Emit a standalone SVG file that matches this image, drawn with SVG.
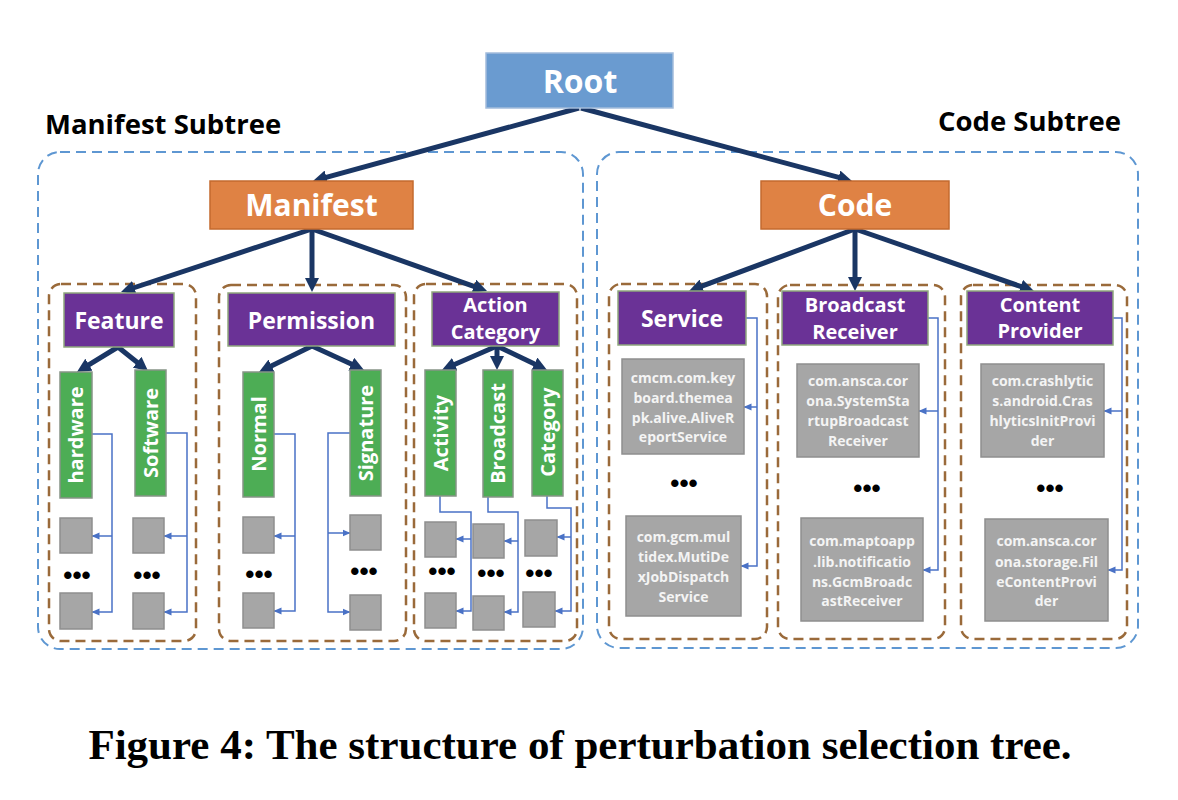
<svg xmlns="http://www.w3.org/2000/svg" width="1178" height="800" viewBox="0 0 1178 800">
<style>
text{font-family:"Open Sans","Liberation Sans",sans-serif;font-weight:700}
.wt{fill:#ffffff;text-anchor:middle}
.root{fill:#6A9BD0;stroke:#A3BCDB;stroke-width:1.5}
.orange{fill:#DF8244;stroke:#C46A2E;stroke-width:1.5}
.purple{fill:#6A3296;stroke:#8EA77C;stroke-width:1.5}
.green{fill:#4DAD55;stroke:#879487;stroke-width:1.5}
.gray{fill:#A6A6A6;stroke:#8E8E8E;stroke-width:1.5}
.gt{fill:#F4F4F4;text-anchor:middle;font-size:14px}
.bluebox{fill:none;stroke:#5E97D2;stroke-width:2;stroke-dasharray:10 6}
.brownbox{fill:none;stroke:#9A6A3A;stroke-width:2.5;stroke-dasharray:10 6}
.thick{fill:none;stroke:#1A3664;stroke-width:5;marker-end:url(#bigArrow)}
.tha{fill:none;stroke:#4A72C6;stroke-width:1.5;marker-end:url(#smallArrow)}
.dots{font-family:"Liberation Sans",sans-serif;font-size:26px;fill:#000;text-anchor:middle}
.vt{fill:#ffffff;text-anchor:middle;font-size:20px}
.head{fill:#000;font-size:27.5px}
</style>
<defs>
<marker id="bigArrow" markerUnits="userSpaceOnUse" viewBox="0 0 14 14" markerWidth="14" markerHeight="14" refX="6" refY="7" orient="auto"><path d="M0,0 L14,7 L0,14 z" fill="#1A3664"/></marker>
<marker id="smallArrow" markerUnits="userSpaceOnUse" viewBox="0 0 8 8" markerWidth="8" markerHeight="8" refX="7.5" refY="4" orient="auto"><path d="M0,0.5 L8,4 L0,7.5 z" fill="#4A72C6"/></marker>
</defs>
<rect width="1178" height="800" fill="#ffffff"/>

<g id="containers">
<rect class="bluebox" x="38" y="152" width="545" height="497" rx="22"/>
<rect class="bluebox" x="597" y="152" width="541" height="496" rx="22"/>
<rect class="brownbox" x="49" y="284" width="147" height="357" rx="12"/>
<rect class="brownbox" x="219" y="285" width="187" height="356" rx="12"/>
<rect class="brownbox" x="414" y="284" width="163" height="357" rx="12"/>
<rect class="brownbox" x="609" y="284" width="158" height="355" rx="12"/>
<rect class="brownbox" x="778" y="285" width="167" height="354" rx="12"/>
<rect class="brownbox" x="961" y="285" width="166" height="354" rx="12"/>
</g>

<g id="labels">
<text class="head" x="45" y="134">Manifest Subtree</text>
<text class="head" x="938" y="131">Code Subtree</text>
</g>

<g id="connectors">
<line class="thick" x1="579" y1="108" x2="320.7" y2="178.9"/>
<line class="thick" x1="581" y1="108" x2="844.3" y2="178.9"/>
<line class="thick" x1="312" y1="229" x2="128.6" y2="289.5"/>
<line class="thick" x1="312" y1="229" x2="312" y2="284"/>
<line class="thick" x1="312" y1="229" x2="479.5" y2="288.3"/>
<line class="thick" x1="855" y1="229" x2="696.5" y2="288.2"/>
<line class="thick" x1="855" y1="229" x2="855" y2="283"/>
<line class="thick" x1="855" y1="229" x2="1026.4" y2="288.4"/>
<line class="thick" x1="118" y1="347" x2="83.8" y2="367.8"/>
<line class="thick" x1="118" y1="347" x2="141.8" y2="366"/>
<line class="thick" x1="312" y1="346" x2="266.2" y2="368.5"/>
<line class="thick" x1="312" y1="346" x2="356.7" y2="366.6"/>
<line class="thick" x1="497" y1="346" x2="449.3" y2="366.8"/>
<line class="thick" x1="497" y1="346" x2="497" y2="362"/>
<line class="thick" x1="497" y1="346" x2="539.8" y2="366.5"/>

<path class="tha" d="M92,434 H112 V612 H92"/>
<path class="tha" d="M112,536 H92"/>
<path class="tha" d="M166,433 H187 V612 H164"/>
<path class="tha" d="M187,536 H164"/>
<path class="tha" d="M274,434 H295 V611 H274"/>
<path class="tha" d="M295,536 H274"/>
<path class="tha" d="M350,433 H328 V612 H350"/>
<path class="tha" d="M328,533 H350"/>
<path class="tha" d="M440,496 V512 H471 V611 H456"/>
<path class="tha" d="M471,539 H456"/>
<path class="tha" d="M488,497 V512 H518 V612 H504"/>
<path class="tha" d="M518,541 H504"/>
<path class="tha" d="M547,496 V508 H571 V611 H555"/>
<path class="tha" d="M571,537 H557"/>
<path class="tha" d="M746,318 H757 V566 H741"/>
<path class="tha" d="M757,407 H744"/>
<path class="tha" d="M928,318 H938 V570 H923"/>
<path class="tha" d="M938,411 H919"/>
<path class="tha" d="M1113,318 H1122 V570 H1108"/>
<path class="tha" d="M1122,411 H1104"/>
</g>

<g id="root"><rect class="root" x="486" y="53" width="187" height="55"/><text class="wt" x="580" y="93" font-size="32">Root</text></g>
<g id="manifest"><rect class="orange" x="210" y="181" width="203" height="48"/><text class="wt" x="311.5" y="216" font-size="30">Manifest</text></g>
<g id="code"><rect class="orange" x="761" y="181" width="188" height="48"/><text class="wt" x="855" y="216" font-size="30">Code</text></g>

<g id="feature"><rect class="purple" x="64" y="293" width="110" height="54"/><text class="wt" x="119" y="329" font-size="23">Feature</text></g>
<g id="permission"><rect class="purple" x="228" y="293" width="167" height="53"/><text class="wt" x="311.5" y="329" font-size="23">Permission</text></g>
<g id="action-category"><rect class="purple" x="432" y="292" width="127" height="54"/><text class="wt" x="495.5" y="312" font-size="20">Action</text><text class="wt" x="495.5" y="339" font-size="20">Category</text></g>
<g id="service"><rect class="purple" x="618" y="291" width="128" height="54"/><text class="wt" x="682" y="327" font-size="23">Service</text></g>
<g id="broadcast-receiver"><rect class="purple" x="782" y="291" width="146" height="54"/><text class="wt" x="855" y="312" font-size="20">Broadcast</text><text class="wt" x="855" y="339" font-size="20">Receiver</text></g>
<g id="content-provider"><rect class="purple" x="967" y="291" width="146" height="54"/><text class="wt" x="1040" y="312" font-size="20">Content</text><text class="wt" x="1040" y="338" font-size="20">Provider</text></g>

<g id="hardware"><rect class="green" x="60" y="372" width="32" height="126"/><text class="vt" transform="translate(83,435) rotate(-90)">hardware</text></g>
<g id="software"><rect class="green" x="135" y="370" width="31" height="126"/><text class="vt" transform="translate(157.5,433) rotate(-90)">Software</text></g>
<g id="normal"><rect class="green" x="243" y="372" width="31" height="125"/><text class="vt" transform="translate(265.5,434) rotate(-90)">Normal</text></g>
<g id="signature"><rect class="green" x="350" y="370" width="31" height="126"/><text class="vt" transform="translate(372.5,433) rotate(-90)">Signature</text></g>
<g id="activity"><rect class="green" x="425" y="370" width="31" height="126"/><text class="vt" transform="translate(447.5,433) rotate(-90)">Activity</text></g>
<g id="broadcast"><rect class="green" x="483" y="370" width="30" height="127"/><text class="vt" transform="translate(505,433.5) rotate(-90)">Broadcast</text></g>
<g id="category"><rect class="green" x="532" y="370" width="31" height="126"/><text class="vt" transform="translate(554.5,432) rotate(-90)">Category</text></g>

<g id="leaves-hardware"><rect class="gray" x="60" y="518" width="32" height="35"/><rect class="gray" x="60" y="593" width="32" height="36"/><text class="dots" x="77" y="584">•••</text></g>
<g id="leaves-software"><rect class="gray" x="133" y="518" width="31" height="35"/><rect class="gray" x="133" y="593" width="31" height="36"/><text class="dots" x="147" y="584">•••</text></g>
<g id="leaves-normal"><rect class="gray" x="243" y="517" width="31" height="36"/><rect class="gray" x="243" y="593" width="31" height="35"/><text class="dots" x="259" y="583">•••</text></g>
<g id="leaves-signature"><rect class="gray" x="350" y="515" width="31" height="35"/><rect class="gray" x="350" y="595" width="31" height="35"/><text class="dots" x="364" y="580">•••</text></g>
<g id="leaves-activity"><rect class="gray" x="425" y="522" width="31" height="35"/><rect class="gray" x="425" y="593" width="31" height="35"/><text class="dots" x="442" y="580">•••</text></g>
<g id="leaves-broadcast"><rect class="gray" x="473" y="524" width="31" height="34"/><rect class="gray" x="473" y="596" width="31" height="34"/><text class="dots" x="491" y="582">•••</text></g>
<g id="leaves-category"><rect class="gray" x="525" y="520" width="32" height="36"/><rect class="gray" x="523" y="592" width="32" height="35"/><text class="dots" x="539" y="582">•••</text></g>

<g id="service-leaves">
<rect class="gray" x="622" y="359" width="122" height="95"/>
<text class="gt" x="683" y="383">cmcm.com.key</text><text class="gt" x="683" y="403">board.themea</text><text class="gt" x="683" y="423">pk.alive.AliveR</text><text class="gt" x="683" y="442">eportService</text>
<text class="dots" x="684" y="492">•••</text>
<rect class="gray" x="626" y="516" width="115" height="100"/>
<text class="gt" x="683.5" y="542">com.gcm.mul</text><text class="gt" x="683.5" y="562">tidex.MutiDe</text><text class="gt" x="683.5" y="582">xJobDispatch</text><text class="gt" x="683.5" y="602">Service</text>
</g>
<g id="receiver-leaves">
<rect class="gray" x="797" y="364" width="122" height="93"/>
<text class="gt" x="858" y="386">com.ansca.cor</text><text class="gt" x="858" y="406">ona.SystemSta</text><text class="gt" x="858" y="426">rtupBroadcast</text><text class="gt" x="858" y="446">Receiver</text>
<text class="dots" x="867" y="497">•••</text>
<rect class="gray" x="801" y="518" width="122" height="103"/>
<text class="gt" x="862" y="546">com.maptoapp</text><text class="gt" x="862" y="567">.lib.notificatio</text><text class="gt" x="862" y="587">ns.GcmBroadc</text><text class="gt" x="862" y="606">astReceiver</text>
</g>
<g id="provider-leaves">
<rect class="gray" x="981" y="364" width="123" height="93"/>
<text class="gt" x="1042.5" y="386">com.crashlytic</text><text class="gt" x="1042.5" y="406">s.android.Cras</text><text class="gt" x="1042.5" y="426">hlyticsInitProvi</text><text class="gt" x="1042.5" y="446">der</text>
<text class="dots" x="1050" y="497">•••</text>
<rect class="gray" x="985" y="519" width="123" height="102"/>
<text class="gt" x="1046.5" y="546">com.ansca.cor</text><text class="gt" x="1046.5" y="567">ona.storage.Fil</text><text class="gt" x="1046.5" y="587">eContentProvi</text><text class="gt" x="1046.5" y="606">der</text>
</g>

<g id="caption"><text x="580" y="759" text-anchor="middle" style="font-family:'Liberation Serif','Times New Roman',serif;font-weight:700;font-size:43px;fill:#000">Figure 4: The structure of perturbation selection tree.</text></g>
</svg>
